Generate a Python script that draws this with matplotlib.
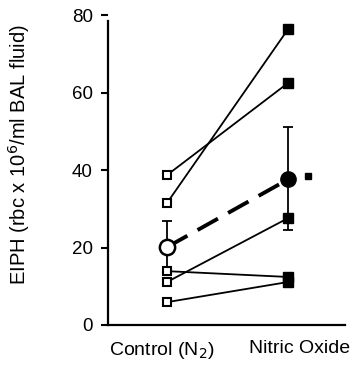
import matplotlib.pyplot as plt
import matplotlib.transforms as mtransforms

# datos
grupos = ['Control (N$_2$)', 'Nitric Oxide']
control = [38.7, 31.5, 11.1, 13.9, 5.9]
oxido_nitrico = [62.5, 76.4, 27.6, 12.4, 11.1]
media = [20.1, 37.6]
error_sup = [6.7, 13.5]
error_inf = [5.4, 13.1]
yticks = [0, 20, 40, 60, 80]

plt.rcParams['font.family'] = ['Liberation Sans', 'DejaVu Sans']

fig = plt.figure(figsize=(3.55, 3.65), dpi=100)
ax = fig.add_axes([0.304, 0.1096, 0.668, 0.849])

x = [0, 1]
for c, n in zip(control, oxido_nitrico):
    ax.plot(x, [c, n], color='black', lw=1.3, zorder=2)
    ax.plot(x[0], c, marker='s', ms=6, mfc='white', mec='black', mew=1.5, zorder=3)
    ax.plot(x[1], n, marker='s', ms=6.5, mfc='black', mec='black', zorder=3)

# media con barras de error
ax.plot(x, media, color='black', lw=2.8, dashes=(6, 3), zorder=2)
ax.errorbar(x, media, yerr=[error_inf, error_sup], fmt='none', ecolor='black',
            elinewidth=1.3, capsize=3.5, capthick=1.3, zorder=2)
ax.plot(x[0], media[0], marker='o', ms=11, mfc='white', mec='black', mew=1.8, zorder=4)
ax.plot(x[1], media[1], marker='o', ms=11, mfc='black', mec='black', zorder=4)
# marca de significación
ax.plot(x[1] + 0.165, media[1] + 0.8, marker='s', ms=5, color='black', zorder=4)

ax.set_xlim(-0.488, 1.47)
ax.set_ylim(0, 80)
ax.set_xticks(x)
ax.set_xticklabels(grupos, fontsize=14)
ax.tick_params(axis='x', length=0, pad=11)
# desplazar un poco las etiquetas como en el original
desplaz = [-5, 11]
for lab, dx in zip(ax.get_xticklabels(), desplaz):
    lab.set_transform(lab.get_transform() +
                      mtransforms.ScaledTranslation(dx / 100, 0, fig.dpi_scale_trans))
ax.set_yticks(yticks)
ax.tick_params(axis='y', length=5, width=1.5, labelsize=13.5, pad=6)
ax.set_ylabel('EIPH (rbc x 10$^6$/ml BAL fluid)', fontsize=14.5)
ax.yaxis.set_label_coords(-0.32, 0.55)

for s in ['top', 'right']:
    ax.spines[s].set_visible(False)
ax.spines['left'].set_linewidth(1.6)
ax.spines['bottom'].set_linewidth(1.6)
ax.spines['left'].set_bounds(0, 78.5)

fig.savefig('out.png', dpi=100)
